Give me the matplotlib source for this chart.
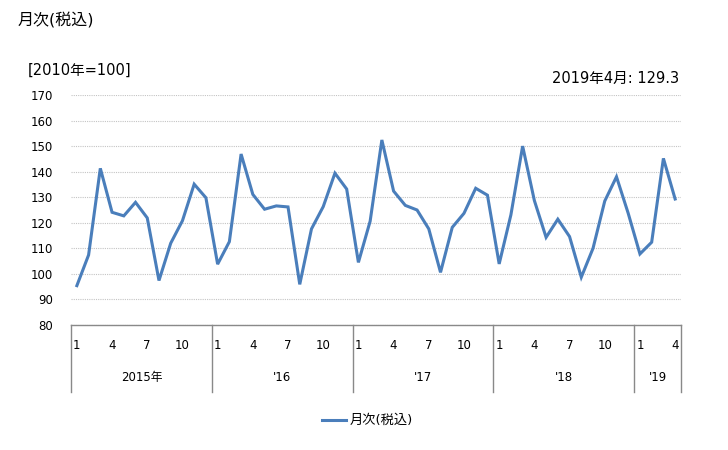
import matplotlib
matplotlib.use("Agg")
import matplotlib.pyplot as plt

plt.rcParams['font.family'] = ['DejaVu Sans', 'Noto Sans CJK JP']

# 月次データ 2015年1月〜2019年4月
values = [95.4, 107.4, 141.3, 124.1, 122.7, 128.0, 121.9, 97.4, 112.0, 120.8, 135.1, 129.8,
          103.8, 112.6, 146.9, 131.1, 125.3, 126.6, 126.2, 95.9, 117.6, 126.3, 139.4, 133.2,
          104.5, 120.6, 152.4, 132.4, 126.8, 125.0, 117.6, 100.6, 118.2, 123.7, 133.5, 130.8,
          103.9, 123.1, 150.0, 128.7, 114.3, 121.4, 114.6, 98.7, 110.0, 128.5, 138.0, 123.7,
          107.8, 112.4, 145.2, 129.3]
years = ['2015年', "'16", "'17", "'18", "'19"]
month_ticks = [1, 4, 7, 10]
y_ticks = [80, 90, 100, 110, 120, 130, 140, 150, 160, 170]

line_color = '#4a7ebb'
n = len(values)
x = list(range(n))

fig = plt.figure(figsize=(7.28, 4.5), dpi=100)
ax = fig.add_axes([71 / 728, 1 - 325 / 450, 610 / 728, 230 / 450])

ax.plot(x, values, color=line_color, linewidth=2.2, solid_joinstyle='miter')
ax.set_xlim(-0.5, n - 0.5)
ax.set_ylim(80, 170)
ax.set_yticks(y_ticks)
ax.set_yticklabels([str(v) for v in y_ticks], fontsize=8.5)
ax.tick_params(axis='y', length=0, pad=13)
ax.set_xticks([])
ax.grid(axis='y', color='#c4c4c4', linewidth=0.8, linestyle=(0, (1, 1)))
for s in ['top', 'right', 'left']:
    ax.spines[s].set_visible(False)
ax.spines['bottom'].set_color('#898989')
ax.spines['bottom'].set_linewidth(1.0)

# 月ラベル
trans = ax.get_xaxis_transform()
for i in range(n):
    m = i % 12 + 1
    if m in month_ticks:
        ax.text(i, -0.09, str(m), transform=trans, ha='center', va='center', fontsize=8.5)

# 年ラベルと区切り線
bounds = [0, 12, 24, 36, 48, n]
for k in range(len(years)):
    mid = (bounds[k] + bounds[k + 1] - 1) / 2
    ax.text(mid, -0.23, years[k], transform=trans, ha='center', va='center', fontsize=8.5)
for b in bounds:
    ax.plot([b - 0.5, b - 0.5], [0, -0.29], transform=trans, color='#898989',
            linewidth=1.0, clip_on=False)

fig.text(18 / 728, 1 - 20 / 450, '月次(税込)', fontsize=11.5, ha='left', va='center')
fig.text(28 / 728, 1 - 70 / 450, '[2010年=100]', fontsize=10.5, ha='left', va='center')
fig.text(679 / 728, 1 - 78 / 450, '2019年4月: 129.3', fontsize=10.5, ha='right', va='center')

# 凡例
fig.add_artist(plt.Line2D([322 / 728, 346 / 728], [1 - 420 / 450, 1 - 420 / 450],
                          color=line_color, linewidth=2.2))
fig.text(350 / 728, 1 - 420 / 450, '月次(税込)', fontsize=9.5, ha='left', va='center')

fig.savefig('out.png', dpi=100)
